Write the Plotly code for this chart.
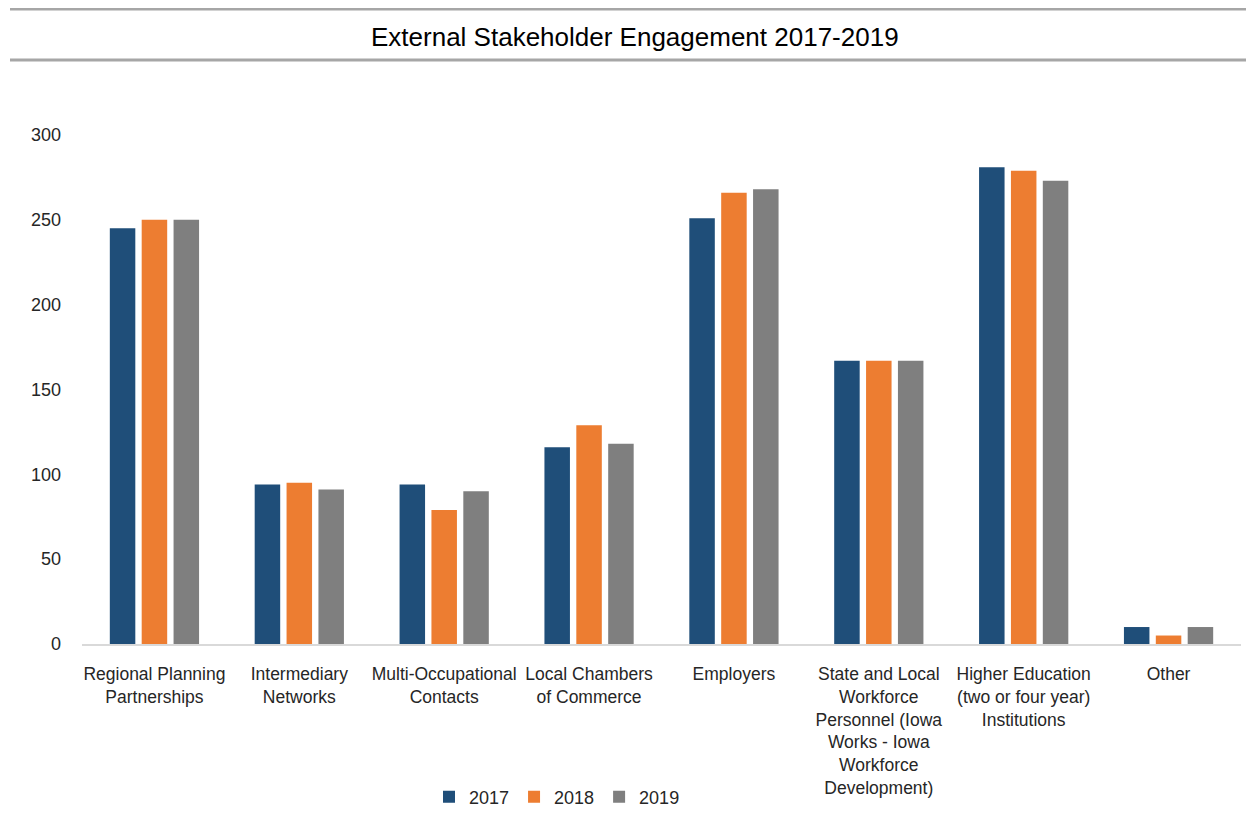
import plotly.graph_objects as go

categories = [
    "Regional Planning<br>Partnerships",
    "Intermediary<br>Networks",
    "Multi-Occupational<br>Contacts",
    "Local Chambers<br>of Commerce",
    "Employers",
    "State and Local<br>Workforce<br>Personnel (Iowa<br>Works - Iowa<br>Workforce<br>Development)",
    "Higher Education<br>(two or four year)<br>Institutions",
    "Other",
]
series_names = ["2017", "2018", "2019"]
values_2017 = [245, 94, 94, 116, 251, 167, 281, 10]
values_2018 = [250, 95, 79, 129, 266, 167, 279, 5]
values_2019 = [250, 91, 90, 118, 268, 167, 273, 10]
y_ticks = [0, 50, 100, 150, 200, 250, 300]
title_text = "External Stakeholder Engagement 2017-2019"

colors = ["#1F4E79", "#ED7D31", "#7F7F7F"]
FONT = "Liberation Sans, Arial, sans-serif"

fig = go.Figure()
for name, vals, col in zip(series_names, [values_2017, values_2018, values_2019], colors):
    fig.add_trace(go.Bar(x=categories, y=vals, name=name, marker=dict(color=col, line=dict(width=0))))

OFF = 8  # page body margin
W, H = 1246, 820
# screen coords of plot area
s_left, s_right, s_top, s_bottom = 82, 1241, 135, 644
ml = s_left - OFF
mt = s_top - OFF
mr = W - (s_right - OFF)
mb = H - (s_bottom - OFF)
ph = s_bottom - s_top
pw = s_right - s_left

def py(sy):
    return (s_bottom - sy) / ph

def px(xpix):
    return (xpix - s_left) / pw

fig.update_layout(
    width=W, height=H,
    margin=dict(l=ml, r=mr, t=mt, b=mb, autoexpand=False),
    paper_bgcolor="white", plot_bgcolor="white",
    barmode="group", bargap=0.34, bargroupgap=0.2,
    font=dict(family=FONT, size=17, color="#262626"),
    showlegend=True,
    legend=dict(orientation="h", x=px(557), xanchor="center", y=py(797), yanchor="middle",
                font=dict(family=FONT, size=18, color="#262626"), itemwidth=30,
                traceorder="normal", bgcolor="rgba(0,0,0,0)"),
    xaxis=dict(showgrid=False, showline=True, linecolor="#D9D9D9", linewidth=2,
               ticks="", tickfont=dict(family=FONT, size=17.5, color="#262626"), tickangle=0,
               ticklabelstandoff=13, automargin=False),
    yaxis=dict(range=[0, 300], tickvals=y_ticks, showgrid=False, showline=False, zeroline=False,
               ticks="", ticklabelstandoff=20, tickfont=dict(family=FONT, size=18, color="#262626"),
               automargin=False),
    annotations=[dict(text=title_text, xref="paper", yref="paper", x=px(635), y=py(37),
                      xanchor="center", yanchor="middle", showarrow=False,
                      font=dict(family=FONT, size=26, color="#000000"))],
    shapes=[
        dict(type="line", xref="paper", yref="paper", x0=px(10), x1=px(1262), y0=py(9), y1=py(9),
             line=dict(color="#A6A6A6", width=3)),
        dict(type="line", xref="paper", yref="paper", x0=px(10), x1=px(1262), y0=py(60), y1=py(60),
             line=dict(color="#A6A6A6", width=3)),
    ],
)

fig.write_html("out.html")
